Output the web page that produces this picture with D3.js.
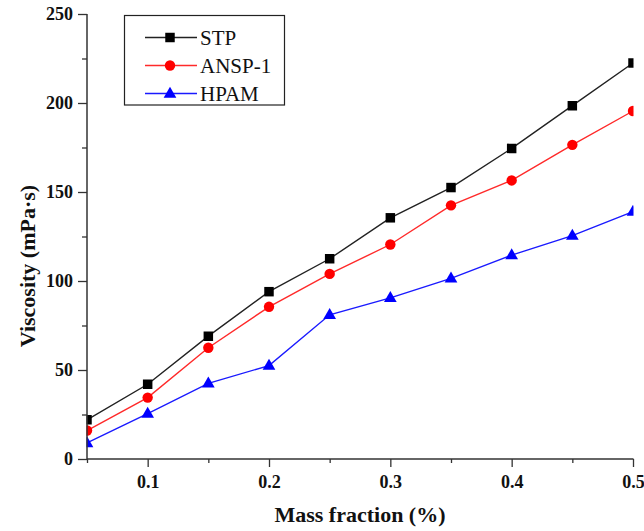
<!DOCTYPE html>
<html><head><meta charset="utf-8">
<script src="https://cdn.jsdelivr.net/npm/d3@7"></script>
<style>html,body{margin:0;padding:0;background:#fff;}svg{display:block;}</style>
</head><body>
<svg id="chart" width="644" height="531"></svg>
<script>
const massFraction = [0.05, 0.10, 0.15, 0.20, 0.25, 0.30, 0.35, 0.40, 0.45, 0.50];
const stpValues  = [22, 42, 69, 94, 112.5, 135.5, 152.5, 174.5, 198.5, 222.5];
const anspValues = [16, 34.5, 62.5, 85.5, 104, 120.5, 142.5, 156.5, 176.5, 195.5];
const hpamValues = [9, 25.5, 42.5, 52.5, 81, 90.5, 101.5, 114.5, 125.5, 139];
const seriesNames = ["STP", "ANSP-1", "HPAM"];
const xMajorTicks = [0.1, 0.2, 0.3, 0.4, 0.5];
const xMinorTicks = [0.05, 0.15, 0.25, 0.35, 0.45];
const yMajorTicks = [0, 50, 100, 150, 200, 250];
const yMinorTicks = [25, 75, 125, 175, 225];

const series = [
  {name: seriesNames[0], values: stpValues, color: "#000000", line: "#222222", symbol: d3.symbolSquare, size: 90},
  {name: seriesNames[1], values: anspValues, color: "#ff0000", line: "#ff2a2a", symbol: d3.symbolCircle, size: 85},
  {name: seriesNames[2], values: hpamValues, color: "#0000ff", line: "#1a1aff", symbol: d3.symbolTriangle, size: 70}
];

const svg = d3.select("#chart");
const font = "'Liberation Serif','Times New Roman',serif";
const x = d3.scaleLinear().domain([0.05, 0.5]).range([87, 633]);
const y = d3.scaleLinear().domain([0, 250]).range([459, 14]);

svg.append("defs").append("clipPath").attr("id", "plotClip")
  .append("rect").attr("x", 86.5).attr("y", 0).attr("width", 633.5 - 86.5).attr("height", 459);

const plot = svg.append("g").attr("clip-path", "url(#plotClip)");
const line = d3.line().x((d, i) => x(massFraction[i])).y(d => y(d));

series.forEach(s => {
  plot.append("path").datum(s.values)
    .attr("d", line).attr("fill", "none")
    .attr("stroke", s.line).attr("stroke-width", 1.4);
  plot.selectAll(null).data(s.values).enter().append("path")
    .attr("d", d3.symbol().type(s.symbol).size(s.size))
    .attr("transform", (d, i) => `translate(${x(massFraction[i])},${y(d) + (s.symbol === d3.symbolTriangle ? 0.5 : 0)})`)
    .attr("fill", s.color);
});

// Axes
const axisColor = "#333";
const xAxis = svg.append("g").attr("transform", "translate(0,459)")
  .call(d3.axisBottom(x).tickValues(xMajorTicks).tickSize(8).tickPadding(8).tickFormat(d3.format(".1f")));
const xMinor = svg.append("g").attr("transform", "translate(0,459)")
  .call(d3.axisBottom(x).tickValues(xMinorTicks).tickSize(4).tickFormat(""));
const yAxis = svg.append("g").attr("transform", "translate(87,0)")
  .call(d3.axisLeft(y).tickValues(yMajorTicks).tickSize(9).tickPadding(5));
const yMinor = svg.append("g").attr("transform", "translate(87,0)")
  .call(d3.axisLeft(y).tickValues(yMinorTicks).tickSize(5).tickFormat(""));

[xAxis, xMinor, yAxis, yMinor].forEach(g => {
  g.select(".domain").attr("stroke", axisColor).attr("stroke-width", 1.5);
  g.selectAll(".tick line").attr("stroke", axisColor).attr("stroke-width", 1.3);
  g.selectAll(".tick text").attr("fill", "#111").attr("font-family", font)
    .attr("font-weight", "bold").attr("font-size", "18px");
});
xMinor.select(".domain").remove();
yMinor.select(".domain").remove();
xAxis.select(".domain").attr("d", "M87,0H633.5");
yAxis.select(".domain").attr("d", "M0,14V459");

// Axis titles
svg.append("text").attr("x", 360).attr("y", 522).attr("text-anchor", "middle")
  .attr("font-family", font).attr("font-weight", "bold").attr("font-size", "22px").attr("fill", "#111")
  .text("Mass fraction (%)");
svg.append("text").attr("transform", "translate(35,266) rotate(-90)").attr("text-anchor", "middle")
  .attr("font-family", font).attr("font-weight", "bold").attr("font-size", "22px").attr("fill", "#111")
  .text("Viscosity (mPa·s)");

// Legend
const legend = svg.append("g");
legend.append("rect").attr("x", 124.5).attr("y", 15.5).attr("width", 160).attr("height", 89.5)
  .attr("fill", "#fff").attr("stroke", "#222").attr("stroke-width", 1.2);
series.forEach((s, i) => {
  const ly = 37.5 + i * 28;
  legend.append("line").attr("x1", 145).attr("x2", 197).attr("y1", ly).attr("y2", ly)
    .attr("stroke", s.line).attr("stroke-width", 1.4);
  legend.append("path").attr("d", d3.symbol().type(s.symbol).size(s.size))
    .attr("transform", `translate(170,${ly + (s.symbol === d3.symbolTriangle ? 0.5 : 0)})`).attr("fill", s.color);
  legend.append("text").attr("x", 200).attr("y", ly + 7).attr("font-family", font)
    .attr("font-size", "21px").attr("fill", "#111").text(s.name);
});
</script>
</body></html>
